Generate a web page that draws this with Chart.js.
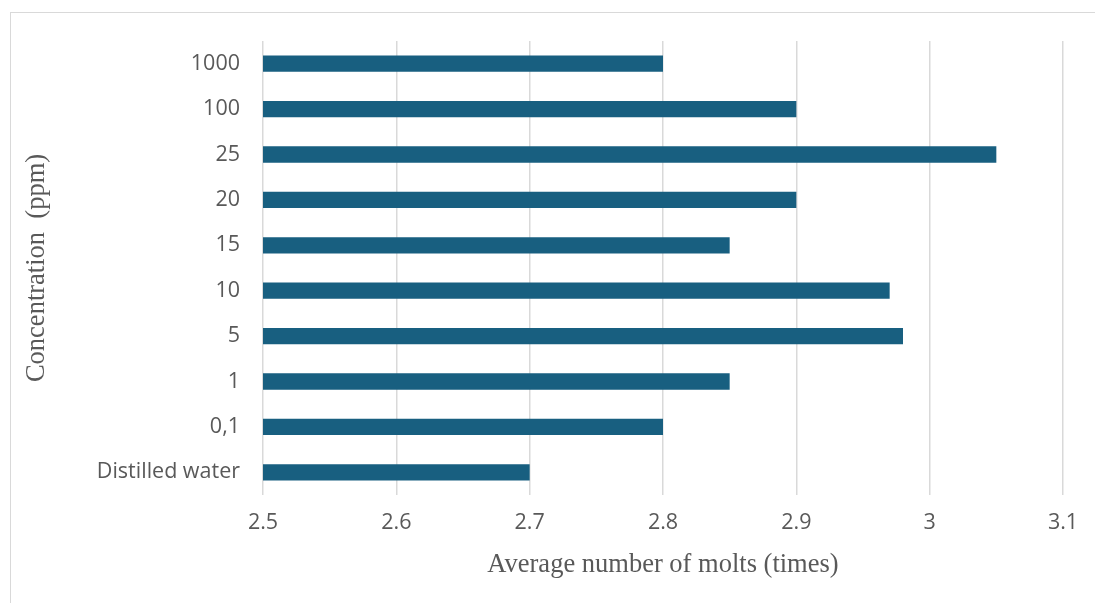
<!DOCTYPE html>
<html>
<head>
<meta charset="utf-8">
<script src="https://cdn.jsdelivr.net/npm/chart.js@4/dist/chart.umd.min.js"></script>
<style>
  html, body { margin: 0; padding: 0; background: #fff; overflow: hidden; }
  #frame { position: absolute; left: 10px; top: 12px; width: 1200px; height: 700px; border: 1.5px solid #d9d9d9; box-sizing: border-box; }
  #c { position: absolute; left: 0; top: 0; }
</style>
</head>
<body>
<div id="frame"></div>
<canvas id="c" width="1095" height="603"></canvas>
<script>
const categories = ["1000", "100", "25", "20", "15", "10", "5", "1", "0,1", "Distilled water"];
const averageMolts = [2.8, 2.9, 3.05, 2.9, 2.85, 2.97, 2.98, 2.85, 2.8, 2.7];
const xTickValues = [2.5, 2.6, 2.7, 2.8, 2.9, 3.0, 3.1];
const xTickLabels = ["2.5", "2.6", "2.7", "2.8", "2.9", "3", "3.1"];
const xTitle = "Average number of molts (times)";
const yTitle = "Concentration  (ppm)";

const tickColor = "#595959";
const tickFont = { family: "'Open Sans', 'Liberation Sans', sans-serif", size: 21.5 };
const titleFont = { family: "'Liberation Serif', 'Times New Roman', serif", size: 26.5 };

new Chart(document.getElementById("c"), {
  type: "bar",
  data: {
    labels: categories,
    datasets: [{
      data: averageMolts,
      backgroundColor: "#185f80",
      borderWidth: 0,
      barPercentage: 0.36,
      categoryPercentage: 1.0
    }]
  },
  options: {
    indexAxis: "y",
    responsive: false,
    devicePixelRatio: 1,
    animation: false,
    layout: { padding: { left: 0, right: 32, top: 41, bottom: 0 } },
    plugins: { legend: { display: false }, tooltip: { enabled: false } },
    scales: {
      x: {
        min: 2.5,
        max: 3.1,
        afterBuildTicks: (scale) => { scale.ticks = xTickValues.map(v => ({ value: v })); },
        afterFit: (scale) => { scale.height = 108; },
        grid: { color: "#d9d9d9", lineWidth: 1.5, drawTicks: false },
        border: { display: false },
        ticks: {
          color: tickColor,
          font: tickFont,
          padding: 15,
          callback: (v, i) => xTickLabels[i]
        },
        title: {
          display: true,
          text: xTitle,
          color: tickColor,
          font: titleFont,
          padding: { top: 0, bottom: 22 }
        }
      },
      y: {
        afterFit: (scale) => { scale.width = 263; },
        grid: { display: false, drawTicks: false },
        border: { display: false },
        ticks: {
          color: tickColor,
          font: tickFont,
          padding: 23
        },
        title: {
          display: true,
          text: yTitle,
          color: tickColor,
          font: titleFont,
          padding: { top: 21, bottom: 0 }
        }
      }
    }
  }
});
</script>
</body>
</html>
